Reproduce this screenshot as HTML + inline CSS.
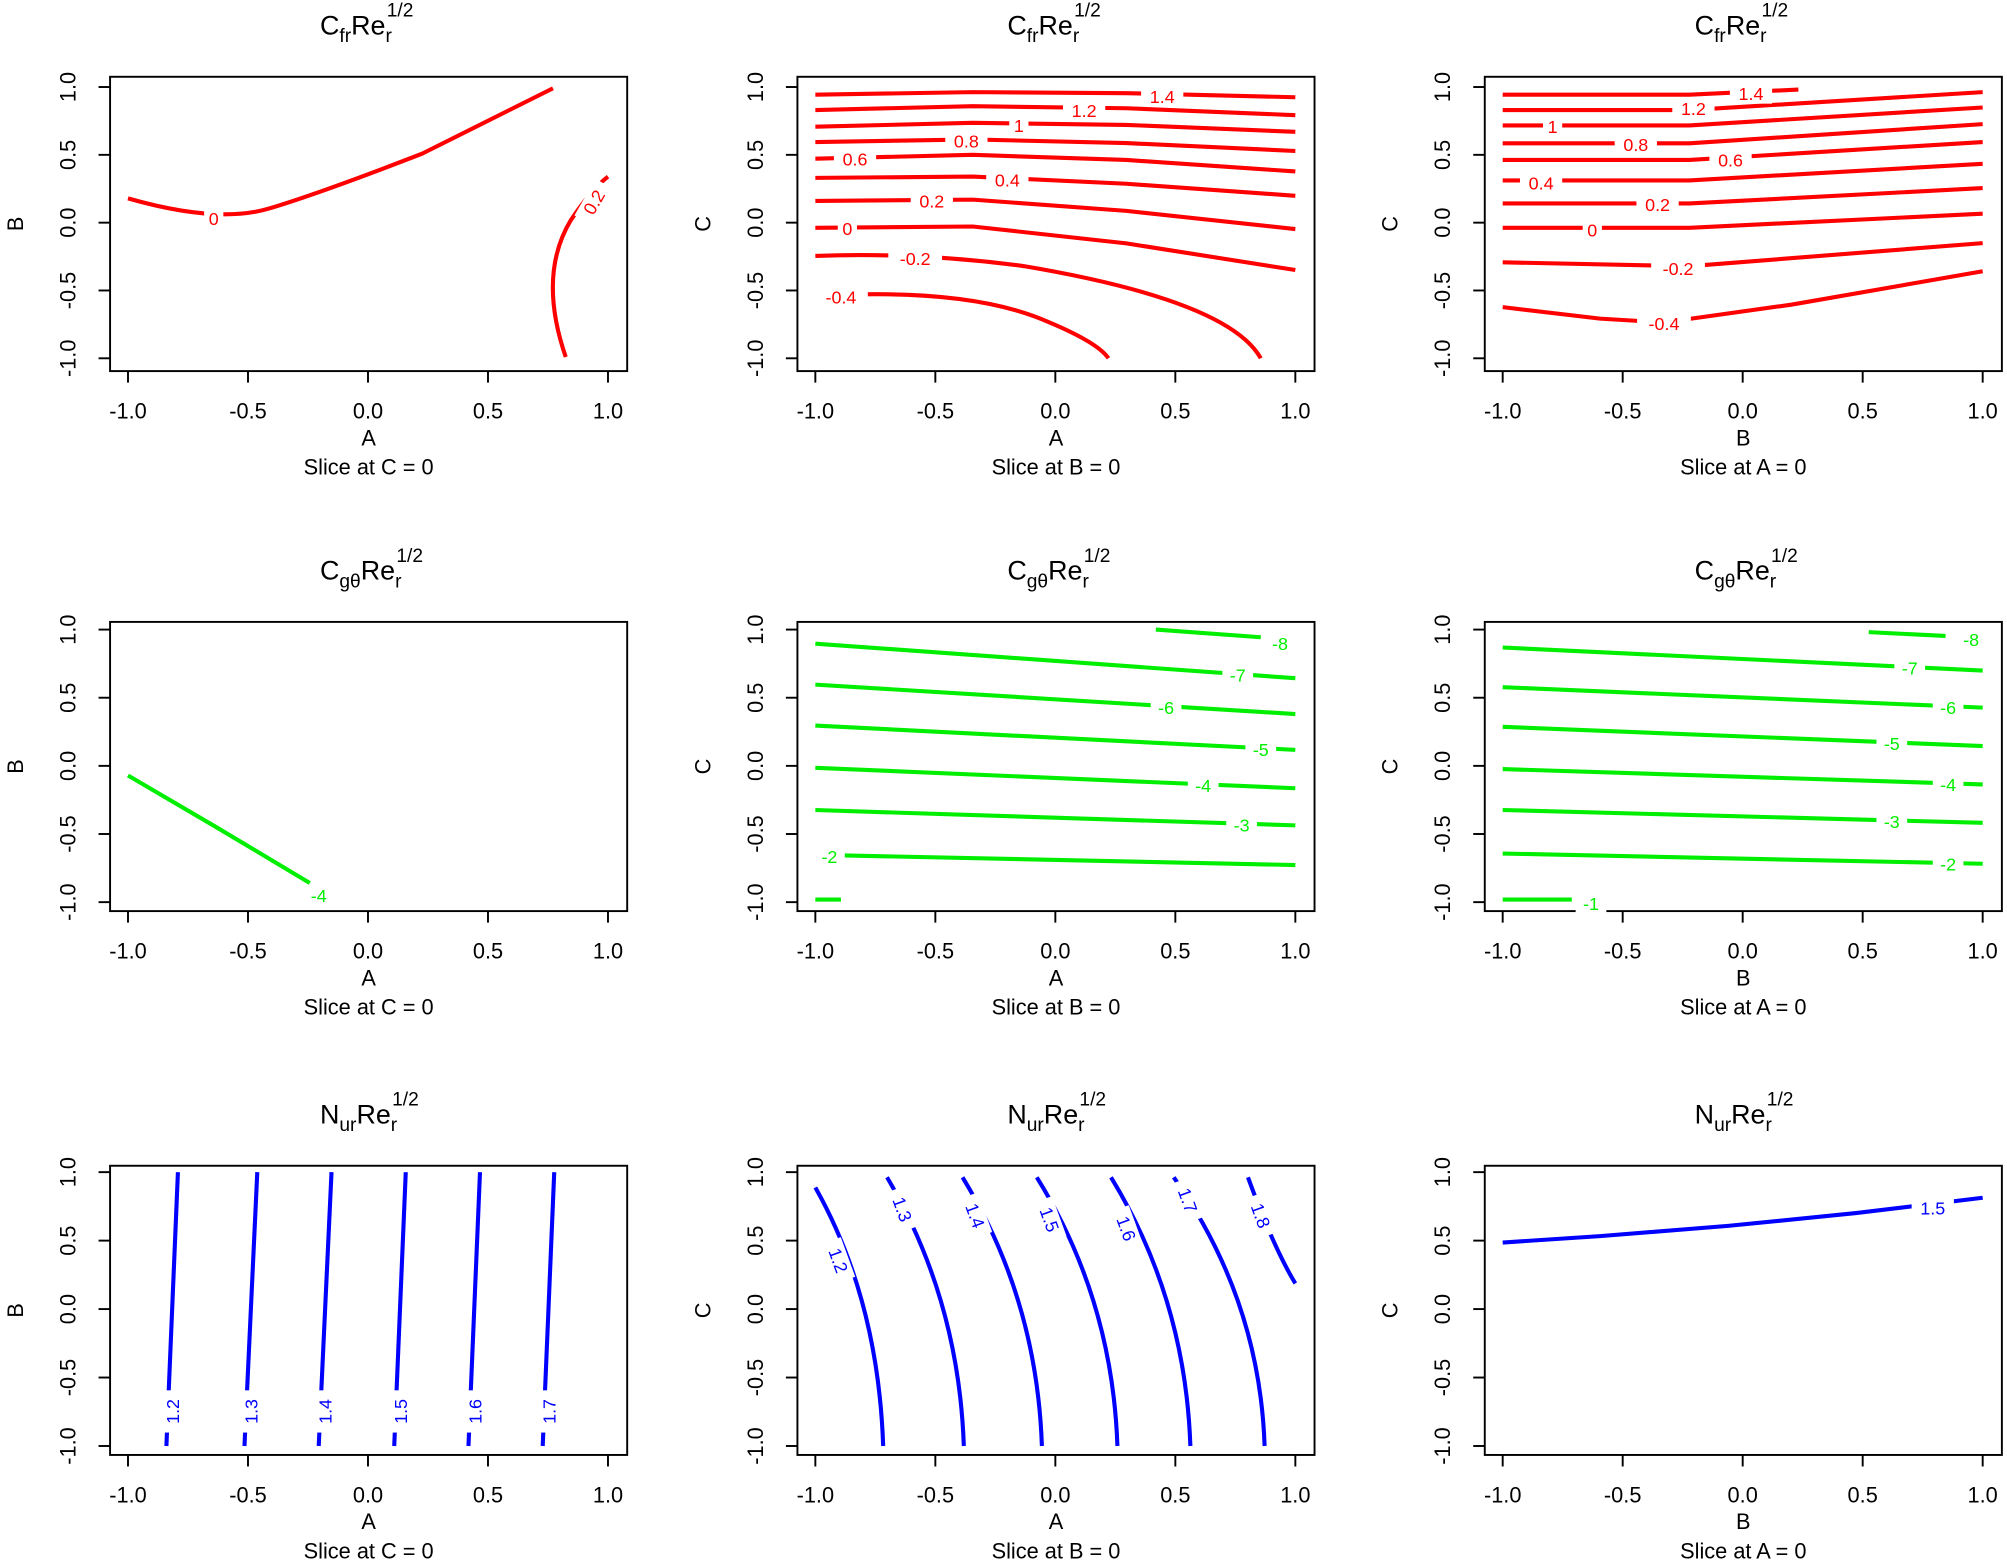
<!DOCTYPE html>
<html><head><meta charset="utf-8">
<style>html,body{margin:0;padding:0;background:#fff;}svg{display:block;}</style>
</head><body>
<svg id="s" width="2007" height="1565" viewBox="0 0 1568 1223" preserveAspectRatio="none" xmlns="http://www.w3.org/2000/svg" font-family="Liberation Sans, Arial, sans-serif"></svg>
<script>
var out='';
var colsX=[[86,490,100,475],[623,1027,637,1012],[1160,1564,1174,1549]];
var rowsY=[[60,290,68,280],[486,712,492,705],[911,1137,916,1130]];
var titles=[['C','fr'],['C','gθ'],['N','ur']];
var xl=['A','A','B'],yl=['B','C','C'],sl=['Slice at C = 0','Slice at B = 0','Slice at A = 0'];
for(var r=0;r<3;r++)for(var c=0;c<3;c++){
 var X=colsX[c],Y=rowsY[r];
 out+='<rect x="'+X[0]+'" y="'+Y[0]+'" width="'+(X[1]-X[0])+'" height="'+(Y[1]-Y[0])+'" fill="none" stroke="#000" stroke-width="1.5"/>';
 var cx=(X[0]+X[1])/2;
 var tl=['-1.0','-0.5','0.0','0.5','1.0'];
 for(var i=0;i<5;i++){
  var tx=X[2]+(X[3]-X[2])*i/4;
  out+='<line x1="'+tx+'" y1="'+Y[1]+'" x2="'+tx+'" y2="'+(Y[1]+9)+'" stroke="#000" stroke-width="1.5"/>';
  out+='<text x="'+tx+'" y="'+(Y[1]+37)+'" font-size="17" text-anchor="middle">'+tl[i]+'</text>';
  var ty=Y[3]-(Y[3]-Y[2])*i/4;
  out+='<line x1="'+X[0]+'" y1="'+ty+'" x2="'+(X[0]-9)+'" y2="'+ty+'" stroke="#000" stroke-width="1.5"/>';
  out+='<text transform="translate('+(X[0]-27)+','+ty+') rotate(-90)" font-size="17" text-anchor="middle">'+tl[i]+'</text>';
 }
 out+='<text x="'+cx+'" y="'+(Y[1]+58)+'" font-size="17" text-anchor="middle">'+xl[c]+'</text>';
 out+='<text x="'+cx+'" y="'+(Y[1]+81)+'" font-size="17" text-anchor="middle">'+sl[c]+'</text>';
 out+='<text transform="translate('+(X[0]-68)+','+((Y[0]+Y[1])/2)+') rotate(-90)" font-size="17" text-anchor="middle">'+yl[c]+'</text>';
 var t=titles[r], ty0=Y[0]-33;
 out+='<text x="'+(cx-38)+'" y="'+ty0+'" font-size="21">'+t[0]+'<tspan font-size="15" dy="6">'+t[1]+'</tspan><tspan dy="-6">Re</tspan><tspan font-size="15" dy="6">r</tspan><tspan font-size="15" dx="-4" dy="-20">1/2</tspan></text>';
}
function L(pts,col){out+='<polyline points="'+pts+'" fill="none" stroke="'+col+'" stroke-width="3.2"/>';}
function P(d,col){out+='<path d="'+d+'" fill="none" stroke="'+col+'" stroke-width="3.2"/>';}
function T(x,y,s,col,rot){var tr='translate('+x+','+y+')'+(rot?' rotate('+rot+')':'');
 out+='<g transform="'+tr+'"><rect x="'+(-s.length*4.5-3)+'" y="-8" width="'+(s.length*9+6)+'" height="16" fill="#fff"/><text y="5" font-size="14" text-anchor="middle" fill="'+col+'">'+s+'</text></g>';}
var R='#ff0000',G='#00ee00',B='#0000ff';
// row1 col1
P('M100,155 Q170,175 210,163 T330,120 Q390,90 432,69',R);T(167,171,'0',R);
P('M442,279 Q420,215 446,172 Q462,148 475,138',R);T(464,158,'0.2',R,-60);
// row1 col2
var c2=[[74,72,76,'1.4',908],[86,83,90,'1.2',847],[99,96,103,'1',796],[111,109,118,'0.8',755],[124,121,134,'0.6',668],[139,138,153,'0.4',787],[157,156,179,'0.2',728],[178,177,211,'0',662]];
c2.forEach(function(a){L('637,'+a[0]+' 760,'+a[1]+' 880,'+(a[1]+(a[2]-a[0])*0.4)+' 1012,'+a[2],R);T(a[4],(a[4]<760?a[0]+(a[1]-a[0])*(a[4]-637)/123:a[1]+(a[2]-a[1])*(a[4]-760)/252)+1,a[3],R);});
P('M637,200 Q720,197 800,208 Q960,235 985,280',R);T(715,202,'-0.2',R);
P('M645,231 Q760,225 820,252 Q858,268 866,280',R);T(657,232,'-0.4',R);
// row1 col3
var c3=[[74,74,70,'1.4',1368,1405],[86,86,72,'1.2',1323,1549],[98,98,84,'1',1213,1549],[112,112,97,'0.8',1278,1549],[125,125,111,'0.6',1352,1549],[141,141,128,'0.4',1204,1549],[159,159,147,'0.2',1295,1549],[178,178,167,'0',1244,1549],[205,208,190,'-0.2',1311,1549]];
c3.forEach(function(a){var e=a[5];var ye=a[2];L('1174,'+a[0]+' 1320,'+a[1]+' '+e+','+(e<1549?70:ye),R);});
T(1368,73,'1.4',R);T(1323,85,'1.2',R);T(1213,99,'1',R);T(1278,113,'0.8',R);T(1352,125,'0.6',R);T(1204,143,'0.4',R);T(1295,160,'0.2',R);T(1244,180,'0',R);T(1311,210,'-0.2',R);
L('1174,240 1250,249 1300,252 1400,238 1549,212',R);T(1300,253,'-0.4',R);
// row2 col1
L('100,606 170,647 242,690',G);T(249,700,'-4',G);
// row2 col2
L('903,492 985,498',G);T(1000,503,'-8',G);
var g2=[[503,530,'-7',967],[535,558,'-6',911],[567,586,'-5',985],[600,616,'-4',940],[633,645,'-3',970],[668,676,'-2',648]];
g2.forEach(function(a){L('637,'+a[0]+' 1012,'+a[1],G);T(a[3],a[0]+(a[1]-a[0])*(a[3]-637)/375+1,a[2],G);});
L('637,703 657,703',G);
// row2 col3
L('1460,494 1520,497',G);T(1540,500,'-8',G);
var g3=[[506,524,'-7',1492],[537,553,'-6',1522],[568,583,'-5',1478],[601,613,'-4',1522],[633,643,'-3',1478],[667,675,'-2',1522]];
g3.forEach(function(a){L('1174,'+a[0]+' 1549,'+a[1],G);T(a[3],a[0]+(a[1]-a[0])*(a[3]-1174)/375+1,a[2],G);});
L('1174,703 1228,703',G);T(1243,706,'-1',G);
// row3 col1
var b1=[[139,130,'1.2'],[201,191,'1.3'],[259,249,'1.4'],[317,308,'1.5'],[375,366,'1.6'],[433,424,'1.7']];
b1.forEach(function(a){L(a[0]+',916 '+a[1]+',1130',B);T(a[1]+5,1103,a[2],B,-90);});
// row3 col2
var b2=[[637,928,'1.2',655,985,690],[693,920,'1.3',705,945,753],[752,920,'1.4',762,950,814],[810,920,'1.5',820,953,873],[868,920,'1.6',880,960,930],[917,920,'1.7',928,938,988]];
b2.forEach(function(a){P('M'+a[0]+','+a[1]+' Q'+(a[5]-4)+',1015 '+a[5]+',1130',B);T(a[3],a[4],a[2],B,70);});
P('M975,920 Q995,975 1012,1003',B);T(985,950,'1.8',B,70);
// row3 col3
L('1174,971 1250,966 1350,958 1450,948 1549,936',B);T(1510,944,'1.5',B);
document.getElementById('s').innerHTML=out;
</script>
</body></html>
